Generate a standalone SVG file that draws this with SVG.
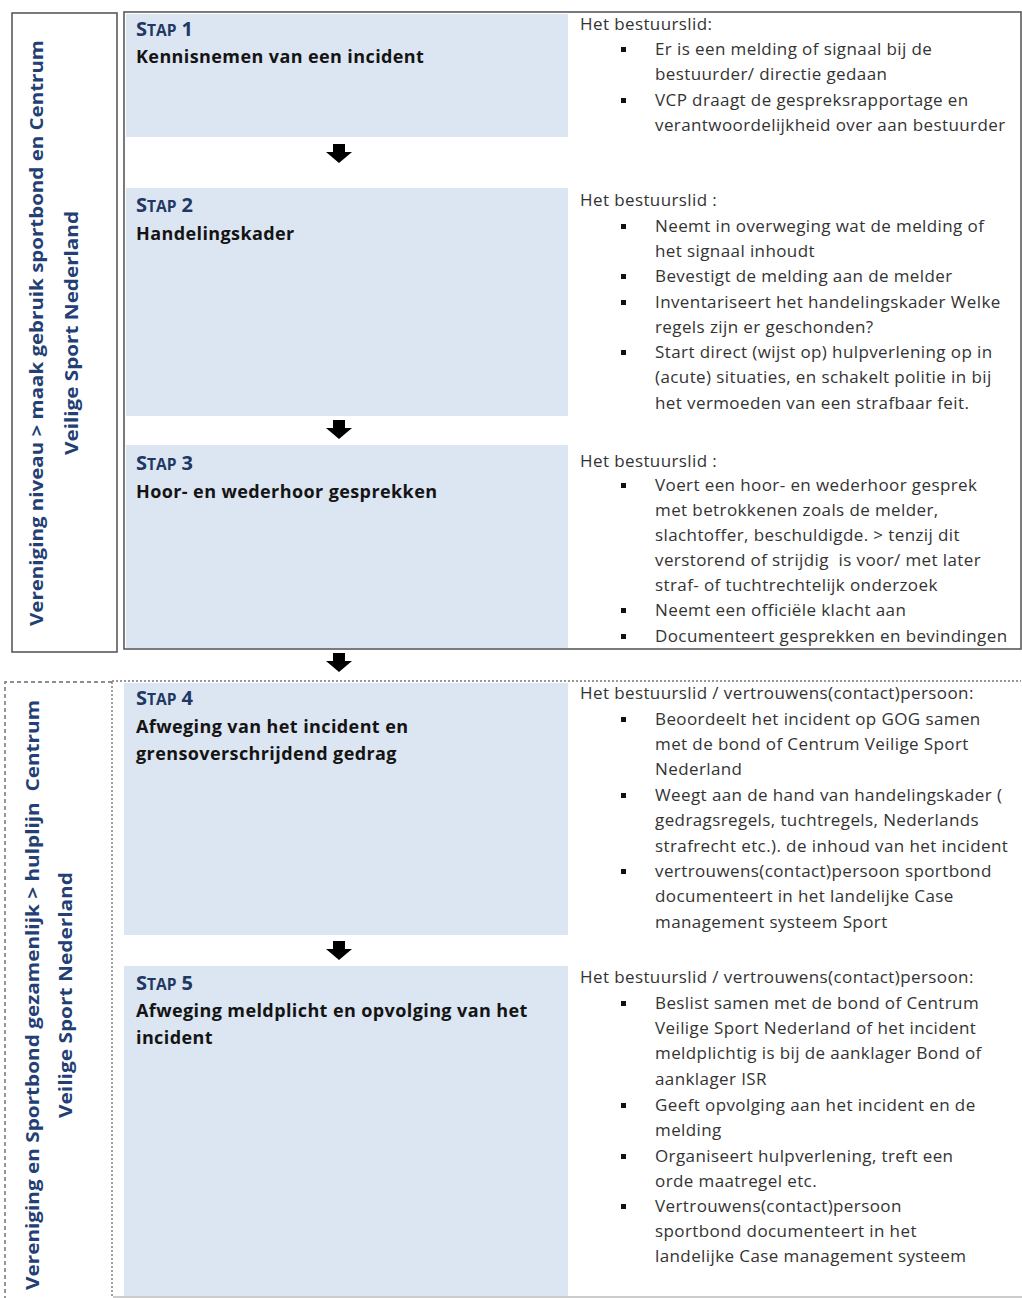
<svg xmlns="http://www.w3.org/2000/svg" width="1022" height="1298" viewBox="0 0 1022 1298">
<style>
.bg{fill:#ffffff}
.cell{fill:#DCE6F2}
.frame{fill:none;stroke:#5a5a5a;stroke-width:1.6}
.dash{fill:none;stroke:#6a6a6a;stroke-width:1.4;stroke-dasharray:4 3}
.dot{fill:none;stroke:#777;stroke-width:1.4;stroke-dasharray:2 2}
.stap{font-family:'Open Sans','Noto Sans',sans-serif;font-weight:bold;fill:#1F3864}
.big{font-size:20px}
.sm{font-size:15.5px}
.title{font-family:'Open Sans','Noto Sans',sans-serif;font-weight:bold;font-size:18px;letter-spacing:0.4px;fill:#141414}
.body{font-family:'Open Sans','Noto Sans',sans-serif;font-size:17px;letter-spacing:0.4px;fill:#333333;white-space:pre}
.vert{font-family:'Open Sans','Noto Sans',sans-serif;font-weight:bold;font-size:17px;fill:#243F74;white-space:pre}
.blt{fill:#111111}
.arrow{fill:#000000}
</style>
<defs>
<path id="arr" d="M-6,0 h12 v8 h7 l-13,11 l-13,-11 h7 z"/>
</defs>
<rect class="bg" x="0" y="0" width="1022" height="1298"/>

<g id="lane-vereniging">
<rect class="frame" x="12" y="13" width="105" height="639"/>
<text class="vert" transform="translate(43,333) rotate(-90)" text-anchor="middle" textLength="586" lengthAdjust="spacingAndGlyphs">Vereniging niveau &gt; maak gebruik sportbond en Centrum</text>
<text class="vert" transform="translate(78,333) rotate(-90)" text-anchor="middle" textLength="244" lengthAdjust="spacingAndGlyphs">Veilige Sport Nederland</text>
</g>

<g id="lane-gezamenlijk">
<path class="dash" d="M112,682 H5 V1298"/>
<path class="dot" d="M112,682 V1298"/>
<text class="vert" transform="translate(39,995) rotate(-90)" text-anchor="middle" textLength="590" lengthAdjust="spacingAndGlyphs">Vereniging en Sportbond gezamenlijk &gt; hulplijn  Centrum</text>
<text class="vert" transform="translate(72,995) rotate(-90)" text-anchor="middle" textLength="246" lengthAdjust="spacingAndGlyphs">Veilige Sport Nederland</text>
</g>

<g id="frame-top">
<rect class="frame" x="124" y="12" width="897" height="637"/>
</g>
<g id="frame-bottom">
<path class="dot" d="M112,681 H1021"/>
<path d="M113,1297 H1022" stroke="#999" stroke-width="1.2" fill="none"/>
</g>

<g id="stap1">
<rect class="cell" x="126" y="14" width="442" height="123"/>
<text class="stap" x="136" y="36"><tspan class="big">S</tspan><tspan class="sm">TAP</tspan><tspan class="big"> 1</tspan></text>
<text class="title" x="136" y="63">Kennisnemen van een incident</text>
<text class="body" x="580" y="30">Het bestuurslid:</text>
<rect class="blt" x="621" y="47" width="5" height="5"/>
<text class="body" x="655" y="55">Er is een melding of signaal bij de</text>
<text class="body" x="655" y="80">bestuurder/ directie gedaan</text>
<rect class="blt" x="621" y="98" width="5" height="5"/>
<text class="body" x="655" y="106">VCP draagt de gespreksrapportage en</text>
<text class="body" x="655" y="131">verantwoordelijkheid over aan bestuurder</text>
</g>

<g id="stap2">
<rect class="cell" x="126" y="188" width="442" height="228"/>
<text class="stap" x="136" y="212"><tspan class="big">S</tspan><tspan class="sm">TAP</tspan><tspan class="big"> 2</tspan></text>
<text class="title" x="136" y="240">Handelingskader</text>
<text class="body" x="580" y="206">Het bestuurslid :</text>
<rect class="blt" x="621" y="224" width="5" height="5"/>
<text class="body" x="655" y="232">Neemt in overweging wat de melding of</text>
<text class="body" x="655" y="257">het signaal inhoudt</text>
<rect class="blt" x="621" y="274" width="5" height="5"/>
<text class="body" x="655" y="282">Bevestigt de melding aan de melder</text>
<rect class="blt" x="621" y="300" width="5" height="5"/>
<text class="body" x="655" y="308">Inventariseert het handelingskader Welke</text>
<text class="body" x="655" y="333">regels zijn er geschonden?</text>
<rect class="blt" x="621" y="350" width="5" height="5"/>
<text class="body" x="655" y="358">Start direct (wijst op) hulpverlening op in</text>
<text class="body" x="655" y="383">(acute) situaties, en schakelt politie in bij</text>
<text class="body" x="655" y="409">het vermoeden van een strafbaar feit.</text>
</g>

<g id="stap3">
<rect class="cell" x="126" y="445" width="442" height="203"/>
<text class="stap" x="136" y="470"><tspan class="big">S</tspan><tspan class="sm">TAP</tspan><tspan class="big"> 3</tspan></text>
<text class="title" x="136" y="498">Hoor- en wederhoor gesprekken</text>
<text class="body" x="580" y="467">Het bestuurslid :</text>
<rect class="blt" x="621" y="483" width="5" height="5"/>
<text class="body" x="655" y="491">Voert een hoor- en wederhoor gesprek</text>
<text class="body" x="655" y="516">met betrokkenen zoals de melder,</text>
<text class="body" x="655" y="541">slachtoffer, beschuldigde. &gt; tenzij dit</text>
<text class="body" x="655" y="566">verstorend of strijdig  is voor/ met later</text>
<text class="body" x="655" y="591">straf- of tuchtrechtelijk onderzoek</text>
<rect class="blt" x="621" y="608" width="5" height="5"/>
<text class="body" x="655" y="616">Neemt een officiële klacht aan</text>
<rect class="blt" x="621" y="634" width="5" height="5"/>
<text class="body" x="655" y="642">Documenteert gesprekken en bevindingen</text>
</g>

<g id="stap4">
<rect class="cell" x="124" y="683" width="444" height="252"/>
<text class="stap" x="136" y="705"><tspan class="big">S</tspan><tspan class="sm">TAP</tspan><tspan class="big"> 4</tspan></text>
<text class="title" x="136" y="733">Afweging van het incident en</text>
<text class="title" x="136" y="760">grensoverschrijdend gedrag</text>
<text class="body" x="580" y="699">Het bestuurslid / vertrouwens(contact)persoon:</text>
<rect class="blt" x="621" y="717" width="5" height="5"/>
<text class="body" x="655" y="725">Beoordeelt het incident op GOG samen</text>
<text class="body" x="655" y="750">met de bond of Centrum Veilige Sport</text>
<text class="body" x="655" y="775">Nederland</text>
<rect class="blt" x="621" y="793" width="5" height="5"/>
<text class="body" x="655" y="801">Weegt aan de hand van handelingskader (</text>
<text class="body" x="655" y="826">gedragsregels, tuchtregels, Nederlands</text>
<text class="body" x="655" y="852">strafrecht etc.). de inhoud van het incident</text>
<rect class="blt" x="621" y="869" width="5" height="5"/>
<text class="body" x="655" y="877">vertrouwens(contact)persoon sportbond</text>
<text class="body" x="655" y="902">documenteert in het landelijke Case</text>
<text class="body" x="655" y="928">management systeem Sport</text>
</g>

<g id="stap5">
<rect class="cell" x="124" y="966" width="444" height="330"/>
<text class="stap" x="136" y="990"><tspan class="big">S</tspan><tspan class="sm">TAP</tspan><tspan class="big"> 5</tspan></text>
<text class="title" x="136" y="1017">Afweging meldplicht en opvolging van het</text>
<text class="title" x="136" y="1044">incident</text>
<text class="body" x="580" y="983">Het bestuurslid / vertrouwens(contact)persoon:</text>
<rect class="blt" x="621" y="1001" width="5" height="5"/>
<text class="body" x="655" y="1009">Beslist samen met de bond of Centrum</text>
<text class="body" x="655" y="1034">Veilige Sport Nederland of het incident</text>
<text class="body" x="655" y="1059">meldplichtig is bij de aanklager Bond of</text>
<text class="body" x="655" y="1085">aanklager ISR</text>
<rect class="blt" x="621" y="1103" width="5" height="5"/>
<text class="body" x="655" y="1111">Geeft opvolging aan het incident en de</text>
<text class="body" x="655" y="1136">melding</text>
<rect class="blt" x="621" y="1154" width="5" height="5"/>
<text class="body" x="655" y="1162">Organiseert hulpverlening, treft een</text>
<text class="body" x="655" y="1187">orde maatregel etc.</text>
<rect class="blt" x="621" y="1204" width="5" height="5"/>
<text class="body" x="655" y="1212">Vertrouwens(contact)persoon</text>
<text class="body" x="655" y="1237">sportbond documenteert in het</text>
<text class="body" x="655" y="1262">landelijke Case management systeem</text>
</g>

<g id="connectors">
<use class="arrow" href="#arr" x="339" y="144"/>
<use class="arrow" href="#arr" x="339" y="420"/>
<use class="arrow" href="#arr" x="339" y="653"/>
<use class="arrow" href="#arr" x="339" y="941"/>
</g>
</svg>
